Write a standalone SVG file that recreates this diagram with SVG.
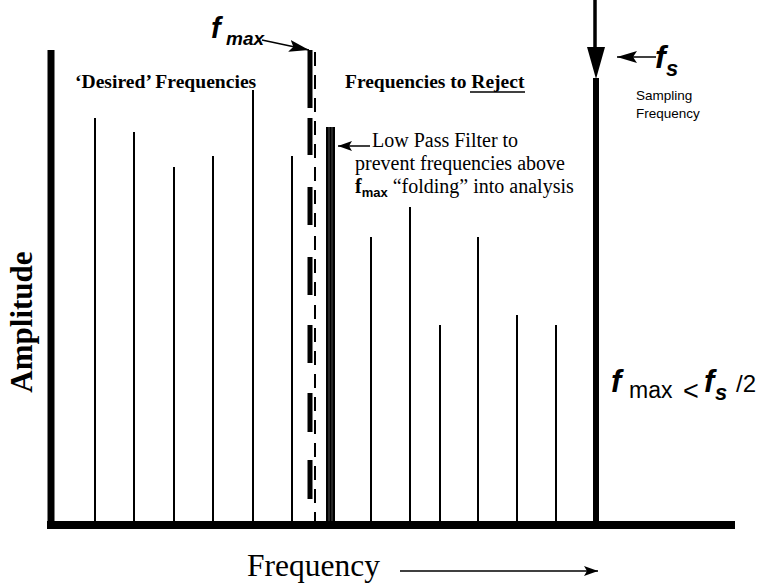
<svg xmlns="http://www.w3.org/2000/svg" width="779" height="584" viewBox="0 0 779 584">
<style>
.ser{font-family:"Liberation Serif","Times New Roman",serif;fill:#000}
.san{font-family:"Liberation Sans",Arial,sans-serif;fill:#000}
.bi{font-weight:bold;font-style:italic}
.spec{stroke:#000;stroke-width:2;fill:none}
</style>
<defs>
<marker id="ah" viewBox="0 0 20 12" refX="20" refY="6" markerWidth="20" markerHeight="12" orient="auto" markerUnits="userSpaceOnUse">
<path d="M0,0 L20,6 L0,12 L4,6 Z" fill="#000"/>
</marker>
<marker id="ahs" viewBox="0 0 14 10" refX="14" refY="5" markerWidth="14" markerHeight="10" orient="auto" markerUnits="userSpaceOnUse">
<path d="M0,0 L14,5 L0,10 L3,5 Z" fill="#000"/>
</marker>
</defs>
<rect width="779" height="584" fill="#fff"/>
<g id="axes">
<line x1="51" y1="50" x2="51" y2="529" stroke="#000" stroke-width="7"/>
<line x1="47" y1="525" x2="735" y2="525" stroke="#000" stroke-width="8"/>
</g>
<g id="spectrum">
<line class="spec" x1="95" y1="118" x2="95" y2="521"/>
<line class="spec" x1="134" y1="132" x2="134" y2="521"/>
<line class="spec" x1="174" y1="167" x2="174" y2="521"/>
<line class="spec" x1="213" y1="156" x2="213" y2="521"/>
<line class="spec" x1="253" y1="90" x2="253" y2="521"/>
<line class="spec" x1="292" y1="156" x2="292" y2="521"/>
<line class="spec" x1="371" y1="237" x2="371" y2="521"/>
<line class="spec" x1="410" y1="207" x2="410" y2="521"/>
<line class="spec" x1="440" y1="325" x2="440" y2="521"/>
<line class="spec" x1="478" y1="237" x2="478" y2="521"/>
<line class="spec" x1="517" y1="315" x2="517" y2="521"/>
<line class="spec" x1="556" y1="325" x2="556" y2="521"/>
</g>
<g id="fmax-line">
<path d="M310,50 V108 M310,118 V155 M310,187 V225 M310,257 V295 M310,325 V363 M310,393 V432 M310,460 V499" stroke="#000" stroke-width="5" fill="none"/>
<line x1="315" y1="52" x2="315" y2="521" stroke="#000" stroke-width="2" stroke-dasharray="14 9"/>
</g>
<g id="filter">
<rect x="326" y="127" width="9" height="394" fill="#000"/>
<line x1="329" y1="127" x2="329" y2="521" stroke="#fff" stroke-width="0.5" stroke-opacity="0.6"/>
<line x1="332" y1="127" x2="332" y2="521" stroke="#fff" stroke-width="0.5" stroke-opacity="0.6"/>
</g>
<g id="sampling-line">
<line x1="595" y1="0" x2="595" y2="48" stroke="#000" stroke-width="3.5"/>
<path d="M587,47 L605,47 L596,79 Z" fill="#000"/>
<line x1="596" y1="78" x2="596" y2="525" stroke="#000" stroke-width="6"/>
</g>
<g id="connectors">
<line x1="262" y1="40" x2="309" y2="50" stroke="#000" stroke-width="1.5" marker-end="url(#ah)"/>
<line x1="656" y1="57" x2="617" y2="57" stroke="#000" stroke-width="1.5" marker-end="url(#ah)"/>
<line x1="370" y1="146" x2="338" y2="146" stroke="#000" stroke-width="1.5" marker-end="url(#ahs)"/>
<line x1="400" y1="571" x2="598" y2="571" stroke="#000" stroke-width="1.5" marker-end="url(#ahs)"/>
</g>
<g id="labels">
<text class="san bi" x="211" y="38" font-size="29">f</text>
<text class="san bi" x="226" y="45" font-size="19">max</text>
<text class="san bi" x="655" y="68" font-size="32">f</text>
<text class="san bi" x="666" y="76" font-size="22">s</text>
<text class="san" x="636" y="100" font-size="13.5">Sampling</text>
<text class="san" x="636" y="118" font-size="13.5">Frequency</text>
<text class="ser" x="75" y="88" font-size="19.6" font-weight="bold">‘Desired’ Frequencies</text>
<text class="ser" x="345" y="88" font-size="19.5" font-weight="bold">Frequencies to Reject</text>
<line x1="470" y1="92" x2="525" y2="92" stroke="#000" stroke-width="1.5"/>
<text class="ser" x="372" y="147" font-size="20">Low Pass Filter to</text>
<text class="ser" x="355" y="170" font-size="20">prevent frequencies above</text>
<text class="ser" x="355" y="193" font-size="20"><tspan font-weight="bold">f</tspan><tspan font-family="Liberation Sans, Arial, sans-serif" font-weight="bold" font-size="13" dy="4">max</tspan><tspan dy="-4"> “folding” into analysis</tspan></text>
<text class="ser" font-size="31" font-weight="bold" text-anchor="middle" transform="translate(32,322) rotate(-90)">Amplitude</text>
<text class="ser" x="247" y="576" font-size="31.5">Frequency</text>
<text class="san bi" x="611" y="392" font-size="31">f</text>
<text class="san" x="629" y="398" font-size="23">max</text>
<text class="san" x="683" y="400" font-size="27">&lt;</text>
<text class="san bi" x="704" y="392" font-size="31">f</text>
<text class="san bi" x="715" y="400" font-size="22">s</text>
<text class="san" x="736" y="392" font-size="24">/2</text>
</g>
</svg>
